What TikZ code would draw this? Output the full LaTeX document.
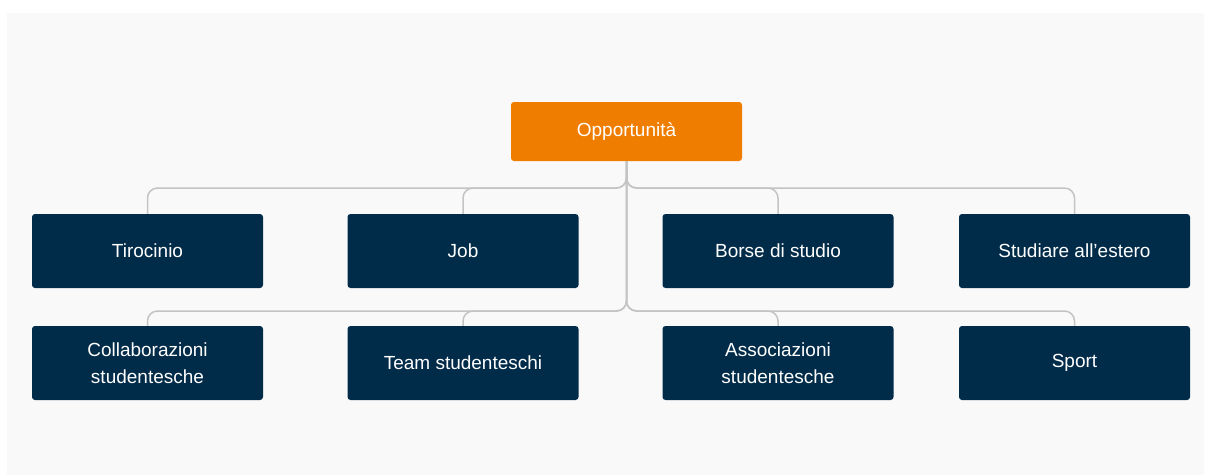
\documentclass[tikz,border=0pt]{standalone}
\usepackage{fontspec}
\setmainfont{Liberation Sans}
\definecolor{bgc}{HTML}{F9F9F9}
\definecolor{orangec}{HTML}{EF7D00}
\definecolor{navyc}{HTML}{002B49}
\definecolor{linec}{HTML}{C4C4C4}
\begin{document}
\begin{tikzpicture}[x=1pt,y=-1pt,
  box/.style={fill=navyc, draw=none, rounded corners=3pt, minimum width=231pt, minimum height=74pt,
    text=white, align=center, inner sep=0pt, font=\fontsize{19}{27.5}\selectfont},
  rootbox/.style={box, fill=orangec, minimum height=59pt},
  conn/.style={draw=linec, line width=1.5pt, rounded corners=10pt}]
\useasboundingbox (0,0) rectangle (1206,475);
\fill[bgc] (7,13) rectangle (1204,475);
\node[rootbox] (root) at (626.5,131.5) {\raisebox{-1.5pt}{Opportunità}};
\node[box] (t1) at (147.5,251) {\raisebox{-1.5pt}{Tirocinio}};
\node[box] (t2) at (463,251) {\raisebox{-1.5pt}{Job}};
\node[box] (t3) at (778,251) {\raisebox{-1.5pt}{Borse di studio}};
\node[box] (t4) at (1074.5,251) {\raisebox{-1.5pt}{Studiare all’estero}};
\node[box] (c1) at (147.5,363) {Collaborazioni\\studentesche};
\node[box] (c2) at (463,363) {\raisebox{-1.5pt}{Team studenteschi}};
\node[box] (c3) at (778,363) {Associazioni\\studentesche};
\node[box] (c4) at (1074.5,363) {\raisebox{-1.5pt}{Sport}};
\coordinate (j1) at (626.5,188);
\coordinate (j2) at (626.5,311);
\foreach \n in {t1,t2,t3,t4} \draw[conn] (root.south) -- (j1) -| (\n.north);
\foreach \n in {c1,c2,c3,c4} \draw[conn] (root.south) -- (j2) -| (\n.north);
\end{tikzpicture}
\end{document}
